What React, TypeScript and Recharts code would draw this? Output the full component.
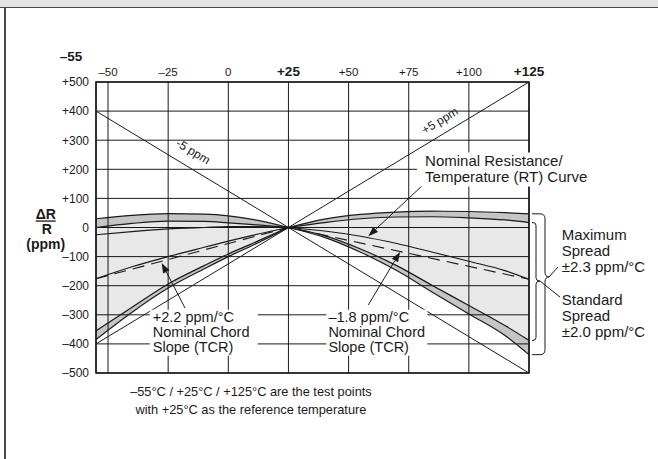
import React from 'react';
import {
  ComposedChart,
  Area,
  Line,
  XAxis,
  YAxis,
  CartesianGrid,
  ReferenceArea,
  ReferenceDot,
  ReferenceLine,
} from 'recharts';

const FONT = '"Liberation Sans", Arial, Helvetica, sans-serif';
const INK = '#1a1a1a';

// temperatures (°C) the curves were read at
const temps = [-55, -40, -25, -10, 0, 10, 25, 40, 55, 70, 85, 100, 115, 125];
// ΔR/R in ppm
const maxUpper = [30, 42, 48, 46, 40, 28, 0, 29, 45, 53, 56, 55, 51, 47];
const stdUpper = [0, 14, 22, 21, 16, 10, 0, 17, 30, 36, 37, 33, 26, 17];
const leftInner = [-25, -14, -5, 0, 3, 3, 0]; // -55 .. +25 only
const nominalRT = [-176, -135, -100, -68, -47, -27, 0, -12, -30, -55, -85, -116, -148, -178];
const stdLower = [-355, -274, -194, -131, -91, -55, 0, -28, -74, -131, -200, -268, -337, -388];
const maxLower = [-385, -291, -208, -142, -100, -62, 0, -34, -85, -148, -223, -297, -371, -437];

// test points and the straight lines through them
const testTemps = [-55, 25, 125];
const chord = [-176, 0, -178];
const plus5 = [-400, 0, 500];
const minus5 = [400, 0, -500];

const xTicks = [-50, -25, 0, 25, 50, 75, 100, 125];
const yTicks = [-500, -400, -300, -200, -100, 0, 100, 200, 300, 400, 500];
const boldTicks = [25, 125];

const REF = 25;

const rows = temps.map((t, i) => {
  const L = t <= REF;
  const R = t >= REF;
  const k = testTemps.indexOf(t);
  return {
    t,
    maxUpL: L ? maxUpper[i] : null,
    maxUpR: R ? maxUpper[i] : null,
    stdUpL: L ? stdUpper[i] : null,
    stdUpR: R ? stdUpper[i] : null,
    innerL: i < leftInner.length ? leftInner[i] : null,
    nomL: L ? nominalRT[i] : null,
    nomR: R ? nominalRT[i] : null,
    stdLoL: L ? stdLower[i] : null,
    stdLoR: R ? stdLower[i] : null,
    maxLoL: L ? maxLower[i] : null,
    maxLoR: R ? maxLower[i] : null,
    envL: L ? [maxLower[i], maxUpper[i]] : null,
    envR: R ? [maxLower[i], maxUpper[i]] : null,
    topL: L ? [stdUpper[i], maxUpper[i]] : null,
    topR: R ? [stdUpper[i], maxUpper[i]] : null,
    lowL: L ? [maxLower[i], stdLower[i]] : null,
    lowR: R ? [maxLower[i], stdLower[i]] : null,
    chord: k >= 0 ? chord[k] : null,
    plus5: k >= 0 ? plus5[k] : null,
    minus5: k >= 0 ? minus5[k] : null,
  };
});

const fmt = (v: number) => (v > 0 ? `+${v}` : v < 0 ? `\u2013${-v}` : '0');

function XTick({ x, y, payload }: any) {
  const b = boldTicks.includes(payload.value);
  return (
    <text x={x} y={y + 2} textAnchor="middle" fontFamily={FONT} fontSize={b ? 13.5 : 11.5}
      fontWeight={b ? 700 : 400} fill={INK}>
      {fmt(payload.value)}
    </text>
  );
}

function YTick({ x, y, payload }: any) {
  return (
    <text x={x + 1} y={y + 4.3} textAnchor="end" fontFamily={FONT} fontSize={12} fill={INK}>
      {fmt(payload.value)}
    </text>
  );
}

type BlockOpts = {
  size?: number;
  lh?: number;
  anchor?: 'start' | 'middle' | 'end';
  weight?: number;
  box?: [number, number, number, number];
  rotate?: number;
};

const textBlock = (lines: string[], o: BlockOpts = {}) => (p: any) => {
  const { cx, cy } = p;
  const size = o.size ?? 14.5;
  const lh = o.lh ?? 15.3;
  return (
    <g transform={o.rotate ? `rotate(${o.rotate} ${cx} ${cy})` : undefined}>
      {o.box && (
        <rect x={cx + o.box[0]} y={cy + o.box[1]} width={o.box[2]} height={o.box[3]} fill="#fff" />
      )}
      {lines.map((s, i) => (
        <text key={i} x={cx} y={cy + i * lh} textAnchor={o.anchor ?? 'start'} fontFamily={FONT}
          fontSize={size} fontWeight={o.weight ?? 400} fill={INK}>
          {s}
        </text>
      ))}
    </g>
  );
};

const yLabel = (p: any) => {
  const { cx, cy } = p;
  return (
    <g fontFamily={FONT} fontWeight={700} fill={INK} textAnchor="middle">
      <text x={cx} y={cy} fontSize={14}>ΔR</text>
      <line x1={cx - 10} x2={cx + 10} y1={cy + 2} y2={cy + 2} stroke={INK} strokeWidth={1.3} />
      <text x={cx + 1} y={cy + 14.5} fontSize={14}>R</text>
      <text x={cx} y={cy + 30} fontSize={14}>(ppm)</text>
    </g>
  );
};

const arrow = (p: any) => {
  const { x1, y1, x2, y2 } = p;
  const a = Math.atan2(y2 - y1, x2 - x1);
  const L = 10;
  const W = 3.6;
  const bx = x2 - L * Math.cos(a);
  const by = y2 - L * Math.sin(a);
  const px = W * Math.sin(a);
  const py = W * Math.cos(a);
  return (
    <g>
      <line x1={x1} y1={y1} x2={bx} y2={by} stroke={INK} strokeWidth={1} />
      <polygon points={`${x2},${y2} ${bx + px},${by - py} ${bx - px},${by + py}`} fill={INK} />
    </g>
  );
};

const brace = (top: number, bottom: number, tip: number, w: number, r: number, lead: [number, number]) => (p: any) => {
  const { x1, y1, y2 } = p;
  const yt = y1 + ((y2 - y1) * (top - tip)) / (top - bottom);
  const x0 = x1 + 3;
  const xv = x1 + w;
  const xt = xv + 4;
  const d = `M${x0},${y1} H${xv - r} Q${xv},${y1} ${xv},${y1 + r} V${yt - r} Q${xv},${yt} ${xt},${yt} ` +
    `Q${xv},${yt} ${xv},${yt + r} V${y2 - r} Q${xv},${y2} ${xv - r},${y2} H${x0}`;
  return (
    <g>
      <path d={d} fill="none" stroke={INK} strokeWidth={1} />
      <line x1={xt} y1={yt} x2={xt + lead[0]} y2={yt + lead[1]} stroke={INK} strokeWidth={1} />
    </g>
  );
};

const curve = (key: string, extra: any = {}) => (
  <Line key={key} dataKey={key} type="monotone" stroke={INK} strokeWidth={1.2} dot={false}
    activeDot={false} isAnimationActive={false} {...extra} />
);

const band = (key: string, opacity: number) => (
  <Area key={key} dataKey={key} type="monotone" stroke="none" fill="#000" fillOpacity={opacity}
    dot={false} activeDot={false} isAnimationActive={false} />
);

export default function App() {
  return (
    <div style={{ position: 'absolute', left: 0, top: 0, width: 658, height: 459, background: '#fff', fontFamily: FONT }}>
      <div style={{ position: 'absolute', left: 0, top: 0 }}>
        <ComposedChart width={658} height={459} data={rows} margin={{ top: 62, right: 129, bottom: 86, left: 36 }}>
          <CartesianGrid stroke={INK} strokeWidth={1} />
          <XAxis dataKey="t" type="number" orientation="top" domain={[-55, 125]} ticks={xTicks}
            interval={0} height={20} axisLine={false} tickLine={false} tick={<XTick />} />
          <YAxis type="number" domain={[-500, 500]} ticks={yTicks} interval={0} width={60}
            axisLine={false} tickLine={false} tick={<YTick />} />

          {band('envL', 0.09)}
          {band('envR', 0.09)}
          {band('topL', 0.15)}
          {band('topR', 0.15)}
          {band('lowL', 0.15)}
          {band('lowR', 0.15)}

          <ReferenceArea x1={-55} x2={125} y1={-500} y2={500} fill="none" fillOpacity={0}
            stroke={INK} strokeWidth={1.6} ifOverflow="visible" />

          {/* white backing for the notes that sit on the grid */}
          <ReferenceDot x={-31.4} y={-323.7} r={0} ifOverflow="visible"
            shape={textBlock([], { box: [-3, -12, 108, 46] })} />
          <ReferenceDot x={41.6} y={-323.7} r={0} ifOverflow="visible"
            shape={textBlock([], { box: [-2, -12, 101, 46] })} />
          <ReferenceDot x={81.8} y={213} r={0} ifOverflow="visible"
            shape={textBlock([], { box: [-8, -13, 175, 34] })} />

          {curve('maxUpL')}
          {curve('maxUpR')}
          {curve('stdUpL')}
          {curve('stdUpR')}
          {curve('innerL')}
          {curve('nomL')}
          {curve('nomR')}
          {curve('stdLoL')}
          {curve('stdLoR')}
          {curve('maxLoL')}
          {curve('maxLoR')}
          {curve('chord', { type: 'linear', connectNulls: true, strokeDasharray: '12 7', strokeWidth: 1.1 })}
          {curve('plus5', { type: 'linear', connectNulls: true, strokeWidth: 1 })}
          {curve('minus5', { type: 'linear', connectNulls: true, strokeWidth: 1 })}

          <ReferenceDot x={-65.4} y={573} r={0} ifOverflow="visible"
            shape={textBlock(['\u201355'], { size: 13.5, weight: 700, anchor: 'middle' })} />
          <ReferenceDot x={-75.9} y={29} r={0} ifOverflow="visible" shape={yLabel} />

          <ReferenceDot x={-15.5} y={249} r={0} ifOverflow="visible"
            shape={textBlock(['-5 ppm'], { size: 12, anchor: 'middle', rotate: 31.2 })} />
          <ReferenceDot x={88.8} y={355.7} r={0} ifOverflow="visible"
            shape={textBlock(['+5 ppm'], { size: 12, anchor: 'middle', rotate: -31.2 })} />

          <ReferenceDot x={81.8} y={213} r={0} ifOverflow="visible"
            shape={textBlock(['Nominal Resistance/', 'Temperature (RT) Curve'], { size: 15, lh: 16.2 })} />
          <ReferenceDot x={-31.4} y={-323.7} r={0} ifOverflow="visible"
            shape={textBlock(['+2.2 ppm/°C', 'Nominal Chord', 'Slope (TCR)'])} />
          <ReferenceDot x={41.6} y={-323.7} r={0} ifOverflow="visible"
            shape={textBlock(['\u20131.8 ppm/°C', 'Nominal Chord', 'Slope (TCR)'])} />
          <ReferenceDot x={138.6} y={-42} r={0} ifOverflow="visible"
            shape={textBlock(['Maximum', 'Spread', '±2.3 ppm/°C'], { size: 15, lh: 16.2 })} />
          <ReferenceDot x={138.6} y={-267.7} r={0} ifOverflow="visible"
            shape={textBlock(['Standard', 'Spread', '±2.0 ppm/°C'], { size: 15, lh: 16 })} />
          <ReferenceDot x={9.4} y={-579} r={0} ifOverflow="visible"
            shape={textBlock(['\u201355°C / +25°C / +125°C are the test points', 'with +25°C as the reference temperature'],
              { size: 12.8, lh: 18, anchor: 'middle' })} />

          <ReferenceLine segment={[{ x: 81.8, y: 153 }, { x: 58.2, y: -30 }]} ifOverflow="visible" shape={arrow} />
          <ReferenceLine segment={[{ x: -18, y: -276.6 }, { x: -27.7, y: -122 }]} ifOverflow="visible" shape={arrow} />
          <ReferenceLine segment={[{ x: 58.2, y: -266 }, { x: 71.4, y: -84 }]} ifOverflow="visible" shape={arrow} />

          <ReferenceLine segment={[{ x: 125, y: 47 }, { x: 125, y: -437 }]} ifOverflow="visible"
            shape={brace(47, -437, -170, 16, 5, [9, -10])} />
          <ReferenceLine segment={[{ x: 125, y: 17 }, { x: 125, y: -388 }]} ifOverflow="visible"
            shape={brace(17, -388, -184, 7, 3, [20, 16])} />
        </ComposedChart>
      </div>
      <div style={{ position: 'absolute', left: 0, top: 0, width: 658, height: 7, background: '#e4e4e4', borderBottom: '1.5px solid #4a4a4a' }} />
      <div style={{ position: 'absolute', left: 4, top: 8, width: 2, height: 451, background: '#4a4a4a' }} />
    </div>
  );
}
